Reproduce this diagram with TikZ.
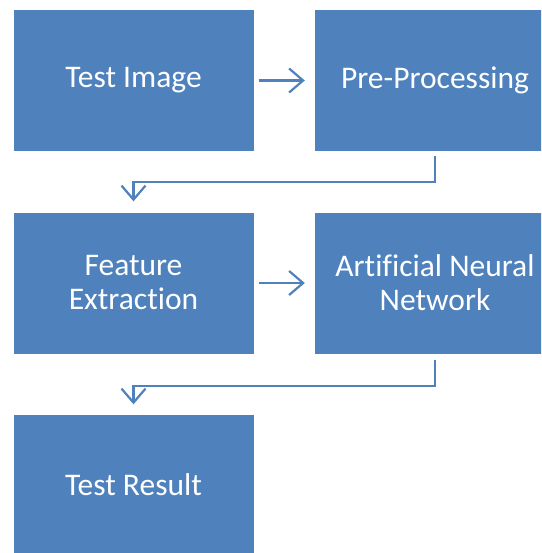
\documentclass[tikz,border=0pt]{standalone}
\usepackage{fontspec}
\setmainfont{Carlito}[Ligatures=CommonOff]
\usetikzlibrary{arrows.meta}
\definecolor{boxblue}{HTML}{4F81BD}
\begin{document}
\begin{tikzpicture}[x=1pt,y=-1pt,
  box/.style={fill=boxblue, draw=none, minimum width=240pt, minimum height=141pt,
    inner sep=0pt, text=white, align=center,
    font=\fontsize{31.5pt}{34pt}\selectfont},
  conn/.style={draw=boxblue, line width=2.2pt,
    -{Straight Barb[length=14pt,width=24pt]}}]
\useasboundingbox (0,0) rectangle (541,553);
\clip (0,0) rectangle (541,553);
\fill[white] (0,0) rectangle (541,553);
\node[box] (ti) at (133.5,80.5) {Test Image};
\node[box] (pp) at (435,80.5) {Pre-Processing};
\node[box] (fe) at (133.5,283) {Feature\\Extraction};
\node[box] (ann) at (435,283) {Artificial Neural\\Network};
\node[box] (tr) at (133.5,485) {Test Result};
\draw[conn, shorten <=5pt, shorten >=10pt] (ti.east) -- (pp.west);
\draw[conn, shorten <=5pt, shorten >=10pt] (fe.east) -- (ann.west);
\draw[conn] ([yshift=-5pt]pp.south) -- ++(0,26) -| ([yshift=11pt]fe.north);
\draw[conn] ([yshift=-6pt]ann.south) -- ++(0,26) -| ([yshift=10pt]tr.north);
\end{tikzpicture}
\end{document}
